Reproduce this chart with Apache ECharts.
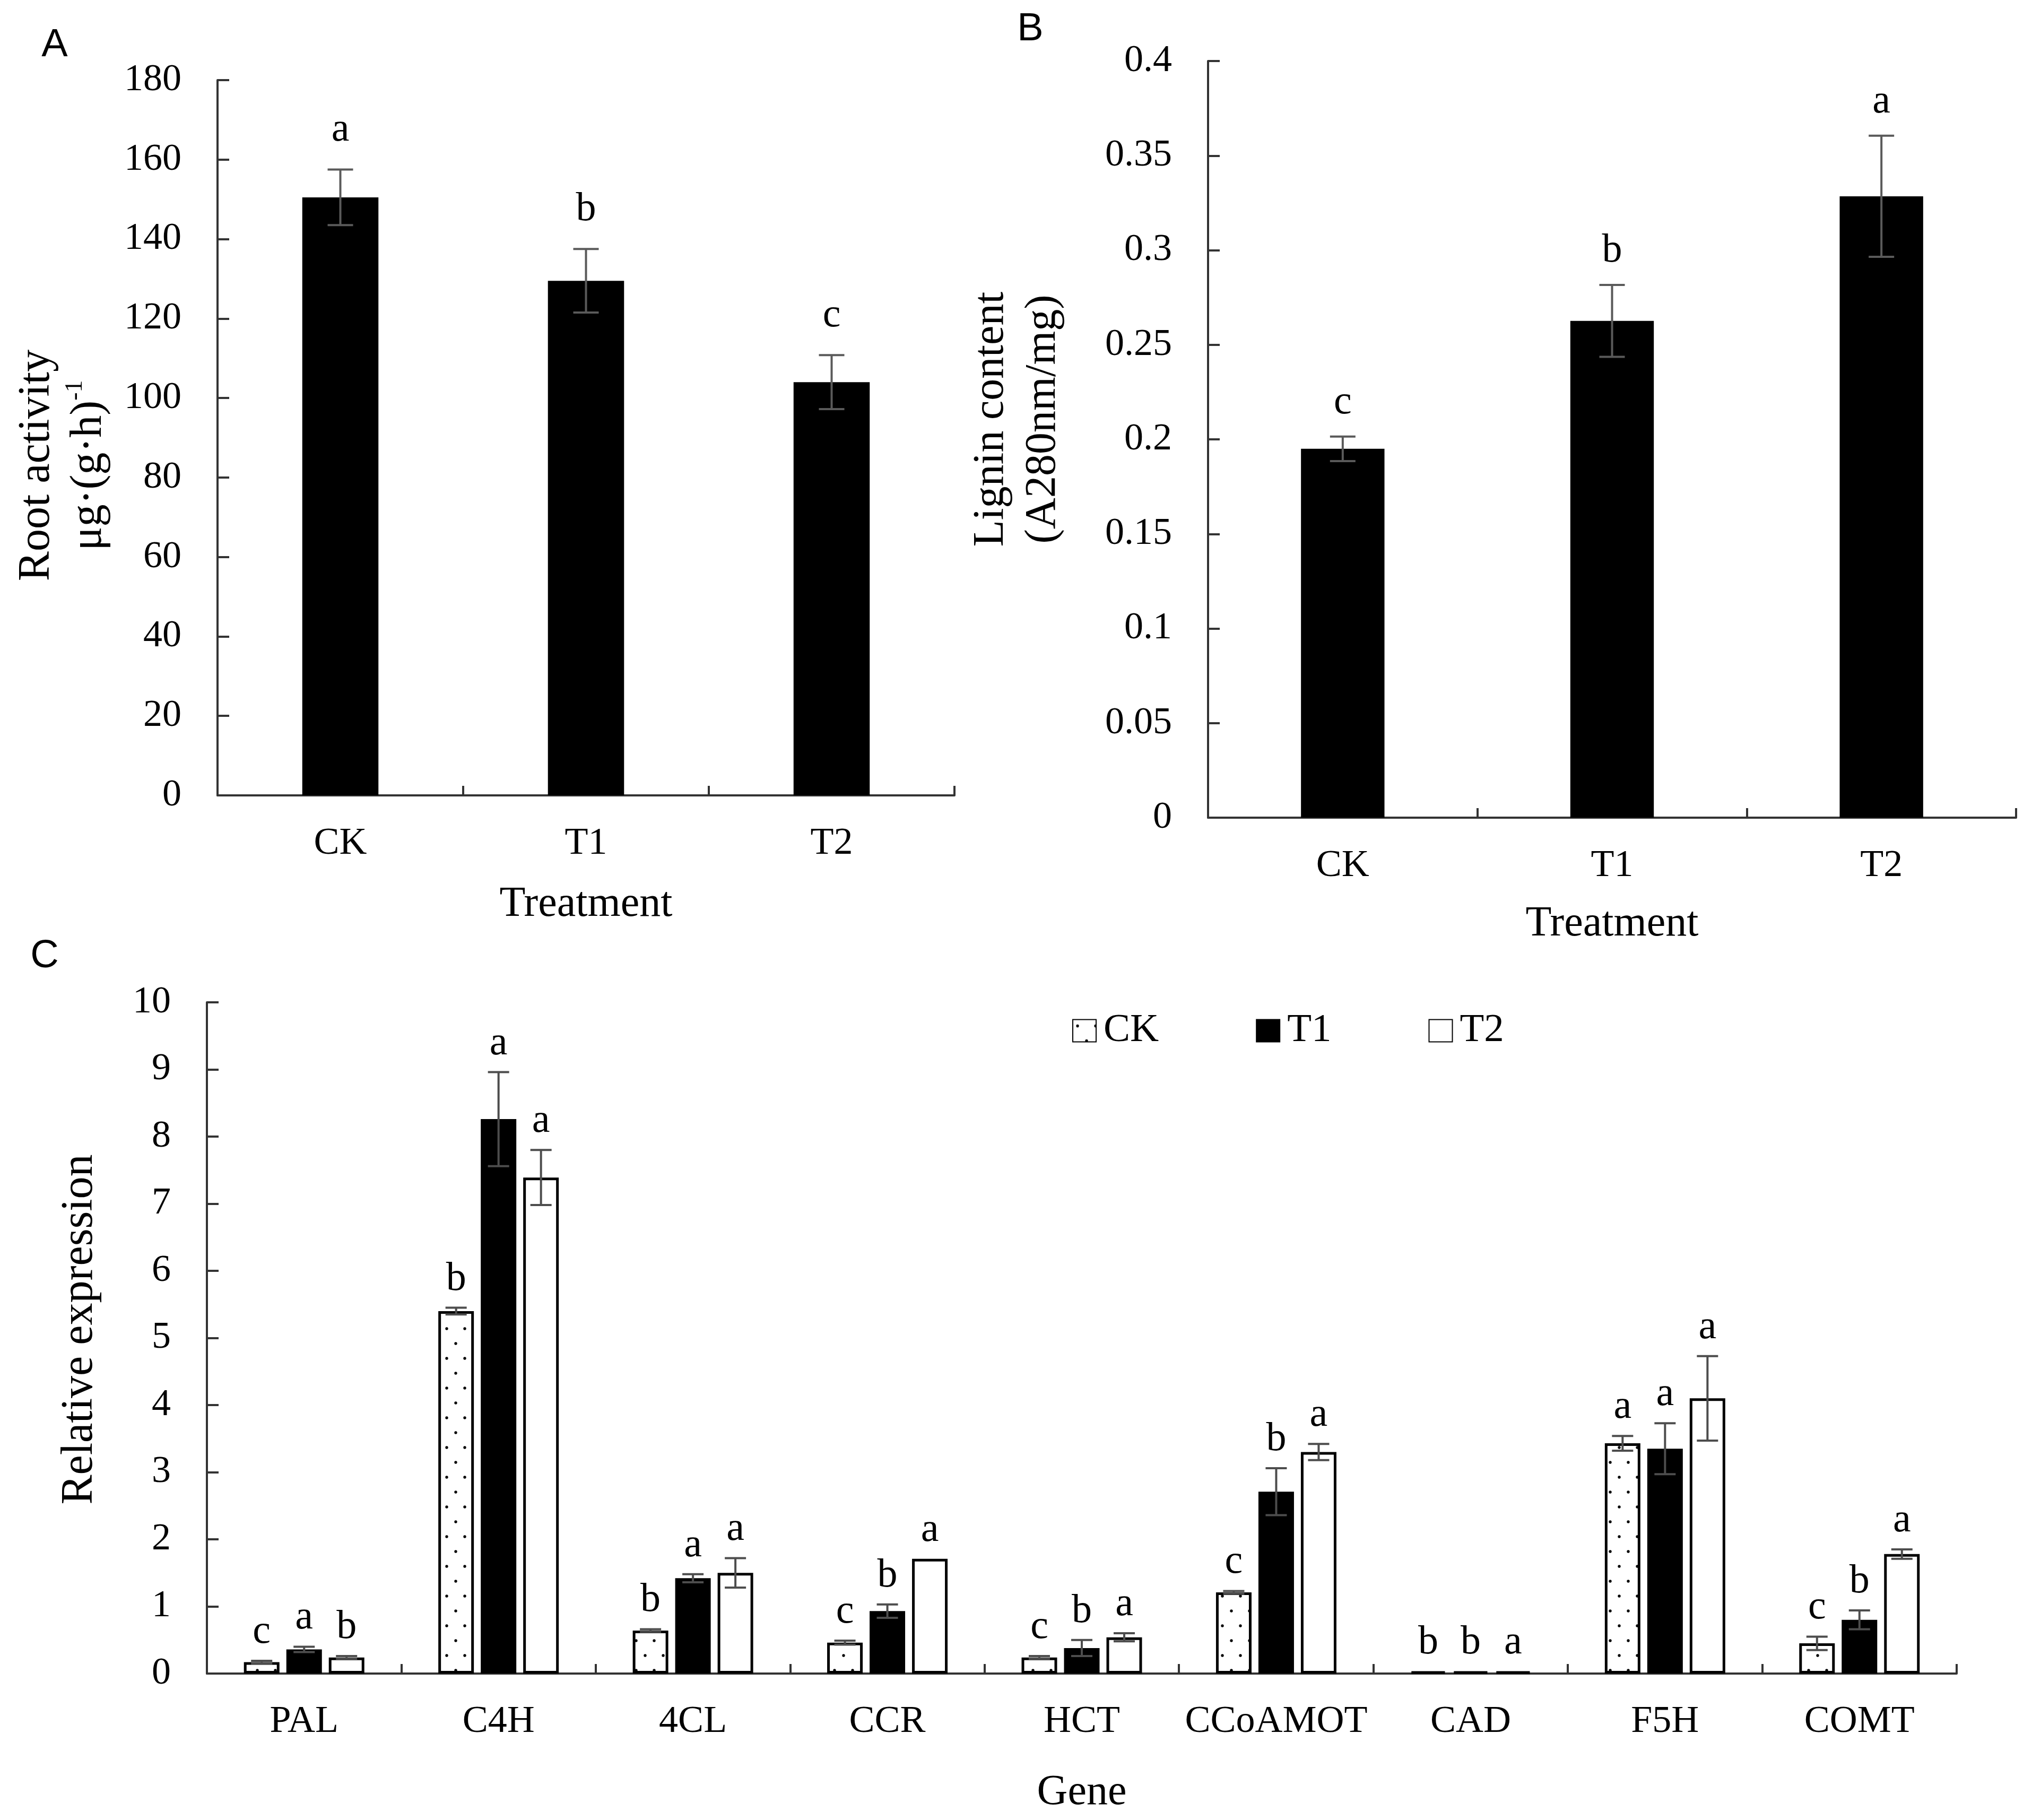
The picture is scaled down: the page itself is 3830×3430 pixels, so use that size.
<!DOCTYPE html>
<html><head><meta charset="utf-8">
<script src="https://cdn.jsdelivr.net/npm/echarts@6/dist/echarts.min.js"></script>
<style>html,body{margin:0;padding:0;background:#fff}#c{width:3830px;height:3430px}</style>
</head><body><div id="c"></div>
<script>
// ---------- Panel A: root activity ----------
const treatments = ['CK', 'T1', 'T2'];
const rootActivity = [150.5, 129.5, 104];
const rootActivityErr = [7, 8, 6.8];
const rootActivityLetters = ['a', 'b', 'c'];
const rootTicks = { min: 0, max: 180, interval: 20 };

// ---------- Panel B: lignin content ----------
const ligninContent = [0.195, 0.2626, 0.3285];
const ligninErr = [0.0065, 0.019, 0.032];
const ligninLetters = ['c', 'b', 'a'];
const ligninTicks = { min: 0, max: 0.4, interval: 0.05 };

// ---------- Panel C: relative expression ----------
const genes = ['PAL', 'C4H', '4CL', 'CCR', 'HCT', 'CCoAMOT', 'CAD', 'F5H', 'COMT'];
const exprCK = [0.17, 5.40, 0.64, 0.46, 0.24, 1.21, 0.03, 3.43, 0.45];
const exprT1 = [0.36, 8.26, 1.42, 0.93, 0.38, 2.71, 0.03, 3.35, 0.80];
const exprT2 = [0.24, 7.39, 1.50, 1.71, 0.54, 3.30, 0.03, 4.10, 1.78];
const errCK = [0.02, 0.05, 0.02, 0.03, 0.02, 0.02, 0, 0.11, 0.10];
const errT1 = [0.04, 0.70, 0.06, 0.10, 0.12, 0.35, 0, 0.38, 0.14];
const errT2 = [0.02, 0.41, 0.22, 0, 0.06, 0.12, 0, 0.63, 0.07];
const lettersCK = ['c', 'b', 'b', 'c', 'c', 'c', 'b', 'a', 'c'];
const lettersT1 = ['a', 'a', 'a', 'b', 'b', 'b', 'b', 'a', 'b'];
const lettersT2 = ['b', 'a', 'a', 'a', 'a', 'a', 'a', 'a', 'a'];
const exprTicks = { min: 0, max: 10, interval: 1 };

const SERIF = "'Liberation Serif','Times New Roman',serif";
const SANS = "'Liberation Sans',Arial,sans-serif";
const C_BAR_W = 67, C_BAR_GAP = 0.194;
const C_STEP = C_BAR_W * (1 + C_BAR_GAP);

function dotPattern() {
  const c = document.createElement('canvas');
  c.width = 34; c.height = 56;
  const g = c.getContext('2d');
  g.fillStyle = '#fff'; g.fillRect(0, 0, 34, 56);
  g.fillStyle = '#000';
  g.beginPath(); g.arc(9, 12, 2.7, 0, Math.PI * 2); g.fill();
  g.beginPath(); g.arc(26, 40, 2.7, 0, Math.PI * 2); g.fill();
  return c;
}

function errRenderer(letters, offsetSlot, step, opt) {
  return function (params, api) {
    const i = api.value(0), v = api.value(1), e = api.value(2);
    const top = api.coord([i, v + e]);
    const bot = api.coord([i, v - e]);
    const x = top[0] + offsetSlot * step;
    const children = [];
    const st = { stroke: opt.color, lineWidth: opt.lw };
    if (e > 0) {
      children.push({ type: 'line', shape: { x1: x, y1: top[1], x2: x, y2: bot[1] }, style: st });
      children.push({ type: 'line', shape: { x1: x - opt.cap / 2, y1: top[1], x2: x + opt.cap / 2, y2: top[1] }, style: st });
      children.push({ type: 'line', shape: { x1: x - opt.cap / 2, y1: bot[1], x2: x + opt.cap / 2, y2: bot[1] }, style: st });
    }
    children.push({
      type: 'text', x: x, y: top[1] - opt.gap,
      style: { text: letters[params.dataIndex], fill: '#000', fontSize: opt.fs, fontFamily: SERIF,
               align: 'center', verticalAlign: 'bottom', textAlign: 'center', textVerticalAlign: 'bottom' }
    });
    return { type: 'group', children: children };
  };
}

const axisLineStyle = { color: '#333', width: 4 };
const tickLabel = { fontFamily: SERIF, fontSize: 72, color: '#000' };

function catAxis(gridIndex, data, name, nameGap) {
  return {
    type: 'category', gridIndex: gridIndex, data: data,
    axisLine: { show: true, lineStyle: axisLineStyle },
    axisTick: { show: true, inside: true, length: 18, alignWithLabel: false, lineStyle: axisLineStyle },
    axisLabel: Object.assign({ margin: 48, lineHeight: 86, interval: 0 }, tickLabel),
    splitLine: { show: false },
    name: name, nameLocation: 'middle', nameGap: nameGap, nameMoveOverlap: false,
    nameTextStyle: { fontFamily: SERIF, fontSize: 80, color: '#000', lineHeight: 98 }
  };
}
function valAxis(gridIndex, ticks, name, nameGap, nameStyle) {
  return {
    type: 'value', gridIndex: gridIndex, min: ticks.min, max: ticks.max, interval: ticks.interval,
    axisLine: { show: true, lineStyle: axisLineStyle },
    axisTick: { show: true, inside: true, length: 22, lineStyle: axisLineStyle },
    axisLabel: Object.assign({ margin: 68 }, tickLabel),
    splitLine: { show: false },
    name: name, nameLocation: 'middle', nameRotate: 90, nameGap: nameGap, nameMoveOverlap: false,
    nameTextStyle: nameStyle
  };
}

const chart = echarts.init(document.getElementById('c'), null, { renderer: 'canvas' });
const pattern = { image: dotPattern(), repeat: 'repeat' };

const option = {
  backgroundColor: '#fff',
  animation: false,
  textStyle: { fontFamily: SERIF },
  grid: [
    { left: 410, right: 2031, top: 151, bottom: 1931, outerBoundsMode: 'none' },
    { left: 2277, right: 30, top: 115, bottom: 1889, outerBoundsMode: 'none' },
    { left: 390, right: 142, top: 1889, bottom: 276, outerBoundsMode: 'none' }
  ],
  legend: {
    data: ['CK', 'T1', 'T2'],
    left: 2016, top: 1900, itemWidth: 44, itemHeight: 42, itemGap: 183, icon: 'rect',
    selectedMode: false,
    textStyle: { fontFamily: SERIF, fontSize: 75, color: '#000', padding: [0, 0, 0, 9] }
  },
  xAxis: [
    catAxis(0, treatments, 'Treatment', 157),
    catAxis(1, treatments, 'Treatment', 152),
    catAxis(2, genes, 'Gene', 176)
  ],
  yAxis: [
    valAxis(0, rootTicks, '{t|Root activity}\n{t|μg·(g·h)}{sup|-1}', 193, {
      fontFamily: SERIF, fontSize: 84, color: '#000', lineHeight: 98, padding: [0, 104, 0, 0],
      rich: {
        t: { fontFamily: SERIF, fontSize: 84, color: '#000', lineHeight: 98 },
        sup: { fontFamily: SERIF, fontSize: 46, color: '#000', lineHeight: 60, verticalAlign: 'top' }
      }
    }),
    valAxis(1, ligninTicks, 'Lignin content\n(A280nm/mg)', 262, {
      fontFamily: SERIF, fontSize: 82, color: '#000', lineHeight: 98, padding: [0, 0, 0, 76]
    }),
    valAxis(2, exprTicks, 'Relative expression', 190, {
      fontFamily: SERIF, fontSize: 84, color: '#000', lineHeight: 98, padding: [0, 0, 0, 32]
    })
  ],
  graphic: [
    { type: 'text', x: 103, y: 86, style: { text: 'A', fontSize: 74, fontFamily: SANS, fill: '#000', align: 'center', verticalAlign: 'middle' } },
    { type: 'text', x: 1942, y: 56, style: { text: 'B', fontSize: 74, fontFamily: SANS, fill: '#000', align: 'center', verticalAlign: 'middle' } },
    { type: 'text', x: 84, y: 1803, style: { text: 'C', fontSize: 74, fontFamily: SANS, fill: '#000', align: 'center', verticalAlign: 'middle' } }
  ],
  series: [
    { name: 'Root activity', type: 'bar', xAxisIndex: 0, yAxisIndex: 0, data: rootActivity, barWidth: '31%',
      itemStyle: { color: '#000' } },
    { name: 'errA', type: 'custom', xAxisIndex: 0, yAxisIndex: 0, z: 5,
      data: rootActivity.map((v, i) => [i, v, rootActivityErr[i]]),
      renderItem: errRenderer(rootActivityLetters, 0, 0, { color: '#5a5a5a', lw: 4, cap: 48, gap: 36, fs: 76 }) },

    { name: 'Lignin content', type: 'bar', xAxisIndex: 1, yAxisIndex: 1, data: ligninContent, barWidth: '31%',
      itemStyle: { color: '#000' } },
    { name: 'errB', type: 'custom', xAxisIndex: 1, yAxisIndex: 1, z: 5,
      data: ligninContent.map((v, i) => [i, v, ligninErr[i]]),
      renderItem: errRenderer(ligninLetters, 0, 0, { color: '#5a5a5a', lw: 4, cap: 48, gap: 26, fs: 76 }) },

    { name: 'CK', type: 'bar', xAxisIndex: 2, yAxisIndex: 2, data: exprCK, barWidth: C_BAR_W, barGap: (C_BAR_GAP * 100) + '%',
      itemStyle: { color: pattern, borderColor: '#000', borderWidth: 5 } },
    { name: 'T1', type: 'bar', xAxisIndex: 2, yAxisIndex: 2, data: exprT1, barWidth: C_BAR_W, barGap: (C_BAR_GAP * 100) + '%',
      itemStyle: { color: '#000', borderColor: '#000', borderWidth: 5 } },
    { name: 'T2', type: 'bar', xAxisIndex: 2, yAxisIndex: 2, data: exprT2, barWidth: C_BAR_W, barGap: (C_BAR_GAP * 100) + '%',
      itemStyle: { color: '#fff', borderColor: '#000', borderWidth: 5 } },
    { name: 'errCK', type: 'custom', xAxisIndex: 2, yAxisIndex: 2, z: 5,
      data: exprCK.map((v, i) => [i, v, errCK[i]]),
      renderItem: errRenderer(lettersCK, -1, C_STEP, { color: '#4d4d4d', lw: 4, cap: 40, gap: 16, fs: 76 }) },
    { name: 'errT1', type: 'custom', xAxisIndex: 2, yAxisIndex: 2, z: 5,
      data: exprT1.map((v, i) => [i, v, errT1[i]]),
      renderItem: errRenderer(lettersT1, 0, C_STEP, { color: '#4d4d4d', lw: 4, cap: 40, gap: 16, fs: 76 }) },
    { name: 'errT2', type: 'custom', xAxisIndex: 2, yAxisIndex: 2, z: 5,
      data: exprT2.map((v, i) => [i, v, errT2[i]]),
      renderItem: errRenderer(lettersT2, 1, C_STEP, { color: '#4d4d4d', lw: 4, cap: 40, gap: 16, fs: 76 }) }
  ]
};
chart.setOption(option);
</script>
</body></html>
